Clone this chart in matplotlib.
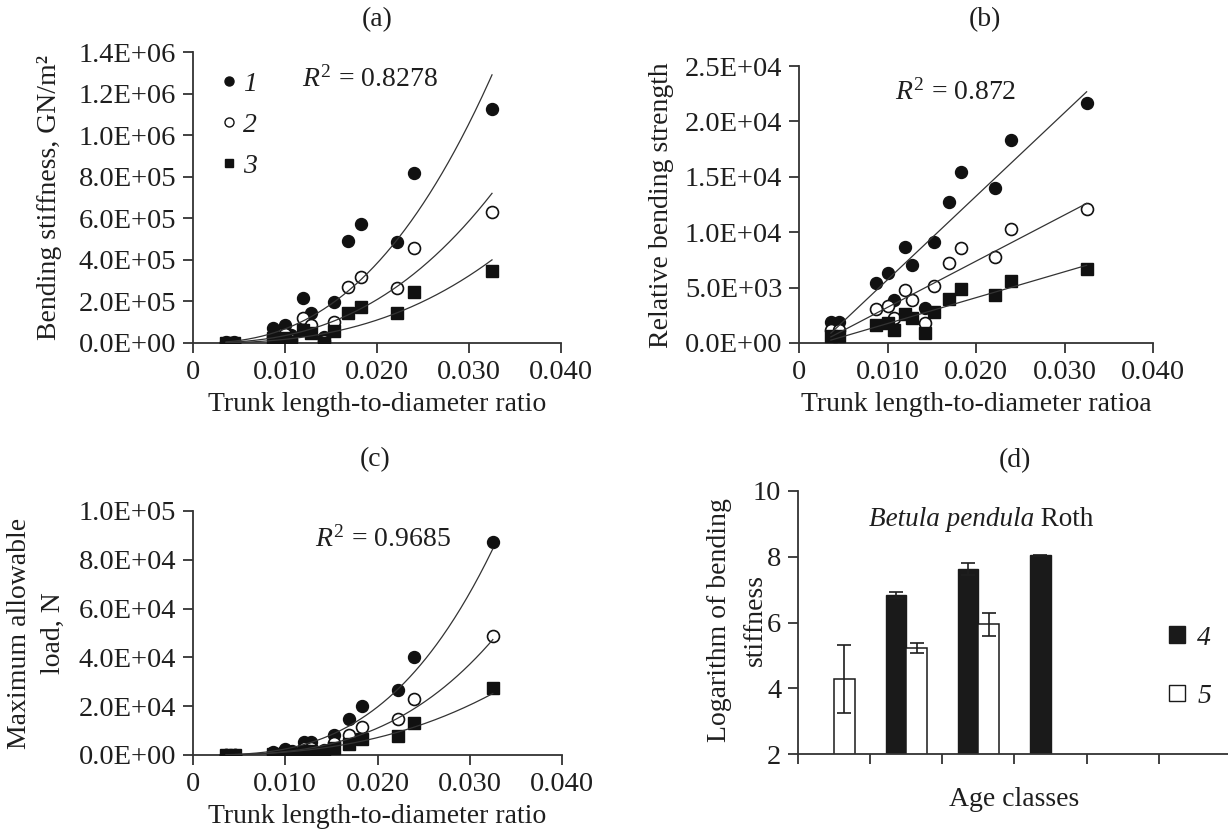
import numpy as np
import matplotlib
matplotlib.use('Agg')
import matplotlib.pyplot as plt
from matplotlib.lines import Line2D
from matplotlib.patches import Patch
from matplotlib.ticker import FuncFormatter

plt.rcParams['font.family'] = ['Liberation Serif', 'DejaVu Serif']
plt.rcParams['mathtext.fontset'] = 'custom'
plt.rcParams['mathtext.rm'] = 'Liberation Serif'
plt.rcParams['mathtext.it'] = 'Liberation Serif:italic'

# ---------------- data ----------------
ratio = [0.0036, 0.0045, 0.0087, 0.0100, 0.0107, 0.0120, 0.0128, 0.0142,
         0.0153, 0.0169, 0.0183, 0.0222, 0.0240, 0.0325]

stiff_1 = [3e3, 3e3, 7.0e4, 8.5e4, 4.0e4, 2.18e5, 1.46e5, 3.0e4, 1.99e5,
           4.92e5, 5.72e5, 4.84e5, 8.16e5, 1.125e6]
stiff_2 = [1e3, 1e3, 3.0e4, 4.5e4, 1.5e4, 1.22e5, 8.7e4, 1.0e4, 1.02e5,
           2.71e5, 3.16e5, 2.63e5, 4.55e5, 6.28e5]
stiff_3 = [0, 0, 2.3e4, 2.3e4, 6e3, 6.2e4, 4.7e4, 1e3, 5.8e4,
           1.46e5, 1.75e5, 1.46e5, 2.47e5, 3.48e5]

strength_1 = [1.86e3, 1.86e3, 5.46e3, 6.3e3, 3.84e3, 8.65e3, 7.05e3, 3.15e3,
              9.15e3, 1.276e4, 1.54e4, 1.40e4, 1.83e4, 2.17e4]
strength_2 = [1.2e3, 1.2e3, 3.06e3, 3.3e3, 2.25e3, 4.8e3, 3.84e3, 1.8e3,
              5.1e3, 7.2e3, 8.56e3, 7.75e3, 1.03e4, 1.207e4]
strength_3 = [600, 600, 1.65e3, 1.8e3, 1.2e3, 2.64e3, 2.25e3, 900,
              2.76e3, 3.96e3, 4.86e3, 4.35e3, 5.64e3, 6.7e3]

load_1 = [100, 100, 1.3e3, 2.3e3, 1.5e3, 5.2e3, 5.2e3, 2.0e3, 8.2e3,
          1.46e4, 2.02e4, 2.66e4, 4.02e4, 8.72e4]
load_2 = [50, 50, 800, 1.3e3, 900, 3.0e3, 3.0e3, 1.2e3, 4.8e3,
          8.2e3, 1.13e4, 1.47e4, 2.28e4, 4.87e4]
load_3 = [30, 30, 500, 800, 500, 1.8e3, 1.8e3, 700, 2.8e3,
          4.5e3, 6.5e3, 7.9e3, 1.3e4, 2.73e4]

# power trendlines (value at x = 0.0325, exponent)
stiff_trend_end = [1.29e6, 7.2e5, 4.0e5]
stiff_trend_exp = [2.5, 2.55, 2.65]
load_trend_end = [8.45e4, 4.73e4, 2.52e4]
load_trend_exp = [3.0, 3.0, 2.6]
trend_ref_x = 0.0325

r2_labels = ['0.8278', '0.872', '0.9685']

age_classes = ['', '', '', '', '', '']
log_stiff_4 = [np.nan, 6.84, 7.62, 8.04, np.nan, np.nan]
log_err_4 = [np.nan, 0.08, 0.18, 0.02, np.nan, np.nan]
log_stiff_5 = [4.28, 5.22, 5.94, np.nan, np.nan, np.nan]
log_err_5 = [1.03, 0.15, 0.34, np.nan, np.nan, np.nan]

# ---------------- layout ----------------
W, H = 1228, 831
fig = plt.figure(figsize=(W / 100, H / 100), dpi=100)
INK = '#1e1e1e'
FS = 20
TFS = 20.5


def px_axes(l, r, t, b):
    return fig.add_axes([l / W, 1 - b / H, (r - l) / W, (b - t) / H])


def ylab(xc, yc, s):
    fig.text(xc / W, 1 - yc / H, s, rotation=90, ha='center', va='center',
             fontsize=FS, color=INK)


def style(ax):
    for s in ['top', 'right']:
        ax.spines[s].set_visible(False)
    for s in ['left', 'bottom']:
        ax.spines[s].set_color('#333333')
        ax.spines[s].set_linewidth(1.3)
    ax.tick_params(direction='out', length=7, width=1.3, color='#333333',
                   labelsize=TFS, labelcolor=INK, pad=5)


sci_fmt = FuncFormatter(lambda v, p: '%.1E' % v)
x_fmt = FuncFormatter(lambda v, p: '0' if abs(v) < 1e-12 else '%.3f' % v)

ms_c, ms_s = 8.6, 8.0


def scatter_three(ax, s1, s2, s3, trend=None):
    x = np.array(ratio)
    xx = np.linspace(x.min(), x.max(), 300)
    ax.plot(x, s1, 'o', ms=ms_c, mfc='#111111', mec='#111111', ls='none', zorder=3)
    ax.plot(x, s2, 'o', ms=ms_c, mfc='white', mec='#111111', mew=1.2, ls='none', zorder=3)
    ax.plot(x, s3, 's', ms=ms_s, mfc='#111111', mec='#111111', ls='none', zorder=3)
    if trend is None:
        for s in (s1, s2, s3):
            c = np.polyfit(x, np.array(s, float), 1)
            ax.plot(xx, np.polyval(c, xx), color='#333333', lw=0.9, zorder=4)
    else:
        for yend, b in zip(*trend):
            ax.plot(xx, yend * (xx / trend_ref_x) ** b, color='#333333', lw=0.9, zorder=4)
    ax.set_xlim(0, 0.040)
    ax.set_xticks([0, 0.01, 0.02, 0.03, 0.04])
    ax.xaxis.set_major_formatter(x_fmt)
    ax.yaxis.set_major_formatter(sci_fmt)
    ax.set_xlabel('Trunk length-to-diameter ratio', fontsize=FS, color=INK, labelpad=5)


# (a)
axa = px_axes(193, 561, 52, 343)
style(axa)
scatter_three(axa, stiff_1, stiff_2, stiff_3, (stiff_trend_end, stiff_trend_exp))
axa.set_ylim(0, 1.4e6)
axa.set_yticks(np.arange(0, 1.41e6, 2e5))
ylab(50, 198, 'Bending stiffness, GN/m²')
axa.text(0.295, 0.905, r'$R^2$ = ' + r2_labels[0], transform=axa.transAxes,
         fontsize=FS, color=INK, va='center', ha='left')
handles = [Line2D([], [], marker='o', ls='none', ms=6.5, mfc='#111111', mec='#111111'),
           Line2D([], [], marker='o', ls='none', ms=6.5, mfc='white', mec='#111111', mew=1.0),
           Line2D([], [], marker='s', ls='none', ms=6, mfc='#111111', mec='#111111')]
leg = axa.legend(handles, ['1', '2', '3'], loc='upper left', bbox_to_anchor=(0.03, 0.99),
                 frameon=False, fontsize=FS, handlelength=0.6, handletextpad=0.2,
                 labelspacing=0.56, borderaxespad=0.2)
for t in leg.get_texts():
    t.set_fontstyle('italic')
    t.set_color(INK)
fig.text(377 / W, 1 - 20 / H, '(a)', fontsize=FS, color=INK, ha='center', va='center')

# (b)
axb = px_axes(799, 1153, 66, 343)
style(axb)
scatter_three(axb, strength_1, strength_2, strength_3)
axb.set_ylim(0, 2.5e4)
axb.set_yticks(np.arange(0, 2.51e4, 5e3))
axb.set_xlabel('Trunk length-to-diameter ratioa', fontsize=FS, color=INK, labelpad=5)
ylab(662, 205, 'Relative bending strength')
axb.text(0.27, 0.905, r'$R^2$ = ' + r2_labels[1], transform=axb.transAxes,
         fontsize=FS, color=INK, va='center', ha='left')
fig.text(985 / W, 1 - 20 / H, '(b)', fontsize=FS, color=INK, ha='center', va='center')

# (c)
axc = px_axes(193, 562, 511, 755)
style(axc)
scatter_three(axc, load_1, load_2, load_3, (load_trend_end, load_trend_exp))
axc.set_ylim(0, 1.0e5)
axc.set_yticks(np.arange(0, 1.01e5, 2e4))
ylab(20, 633, 'Maximum allowable')
ylab(53, 633, 'load, N')
axc.text(0.33, 0.885, r'$R^2$ = ' + r2_labels[2], transform=axc.transAxes,
         fontsize=FS, color=INK, va='center', ha='left')
fig.text(375 / W, 1 - 460 / H, '(c)', fontsize=FS, color=INK, ha='center', va='center')

# (d)
axd = px_axes(798, 1231, 491, 754)
style(axd)
cats = np.arange(len(age_classes))
bw = 0.285
axd.bar(cats - bw / 2, log_stiff_4, width=bw, color='#1a1a1a', edgecolor='#1a1a1a',
        yerr=log_err_4, capsize=5, error_kw=dict(elinewidth=1.2, ecolor=INK, capthick=1.2),
        zorder=2)
axd.bar(cats + bw / 2, log_stiff_5, width=bw, color='white', edgecolor='#1a1a1a',
        linewidth=1.1, yerr=log_err_5, capsize=5,
        error_kw=dict(elinewidth=1.2, ecolor=INK, capthick=1.2), zorder=2)
axd.set_xlim(-0.5, len(age_classes) - 0.5)
tick_pos = np.arange(-0.5, len(age_classes), 1.0)
axd.set_xticks(tick_pos)
axd.set_xticklabels([''] * len(tick_pos))
axd.set_ylim(2, 10)
axd.set_yticks([2, 4, 6, 8, 10])
axd.set_xlabel('Age classes', fontsize=FS, color=INK, labelpad=12)
ylab(720, 620, 'Logarithm of bending')
ylab(755, 620, 'stiffness')
axd.text(0.545, 0.89, 'Betula pendula', style='italic', transform=axd.transAxes,
         fontsize=19.5, color=INK, va='center', ha='right')
axd.text(0.545, 0.89, ' Roth', transform=axd.transAxes,
         fontsize=19.5, color=INK, va='center', ha='left')
dh = [Patch(facecolor='#1a1a1a', edgecolor='#1a1a1a'),
      Patch(facecolor='white', edgecolor='#1a1a1a', linewidth=1.0)]
legd = axd.legend(dh, ['4', '5'], loc='center left', bbox_to_anchor=(0.80, 0.33),
                  frameon=False, fontsize=FS, handlelength=0.55, handleheight=0.55,
                  handletextpad=0.45, labelspacing=1.2)
for t in legd.get_texts():
    t.set_fontstyle('italic')
    t.set_color(INK)
fig.text(1015 / W, 1 - 461 / H, '(d)', fontsize=FS, color=INK, ha='center', va='center')

fig.savefig('out.png', dpi=100, facecolor='white')
